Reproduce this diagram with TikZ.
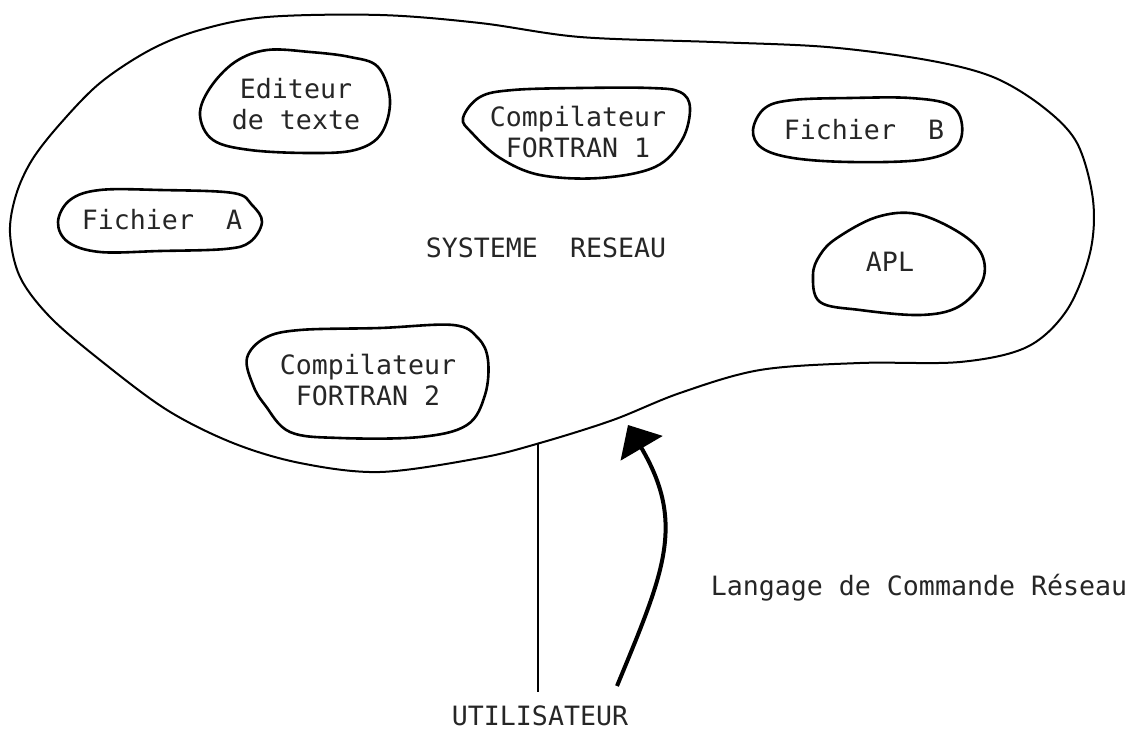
\documentclass[tikz,border=0pt]{standalone}
\usepackage{fontspec}
\setmonofont{DejaVu Sans Mono}
\usetikzlibrary{arrows.meta}

\begin{document}
\begin{tikzpicture}[x=0.5pt,y=-0.5pt]

\tikzset{
  txt/.style={font=\ttfamily\fontsize{13.3}{15.5}\selectfont, text=black!85, align=center},
  blob/.style={line width=1.3pt, smooth cycle, tension=0.6},
  outline/.style={line width=1pt, smooth cycle, tension=0.55}
}

\useasboundingbox (0,0) rectangle (1136,732);

\draw[outline] plot coordinates {(10,233) (16,195) (32,160) (60,124) (100,83) (150,50) (200,30) (267,17) (380,15) (480,23) (580,37) (713,42) (827,47) (927,60) (993,77) (1043,107) (1077,143) (1093,200) (1090,253) (1067,310) (1027,347) (960,362) (860,363) (760,370) (680,393) (613,420) (540,443) (480,458) (380,472) (300,463) (233,443) (167,410) (100,360) (50,317) (20,277)};

\node[txt] (edit) at (296,104) {Editeur\\de texte};
\draw[blob] plot coordinates {(200,115) (210,88) (235,62) (267,50) (310,52) (350,57) (378,67) (390,100) (381,134) (355,150) (310,153) (250,150) (213,140)};

\node[txt] (comp1) at (578,132) {Compilateur\\FORTRAN 1};
\draw[blob] plot coordinates {(463,118) (480,97) (513,90) (580,88) (650,88) (680,92) (690,108) (682,140) (655,167) (600,178) (540,175) (500,158) (472,133)};

\node[txt] (fichB) at (864,130) {Fichier~~B};
\draw[blob] plot coordinates {(753,130) (765,108) (793,100) (850,98) (910,98) (950,105) (962,125) (955,148) (920,160) (850,162) (793,158) (762,148)};

\node[txt] (fichA) at (162,220) {Fichier~~A};
\draw[blob] plot coordinates {(58,222) (70,200) (100,190) (160,190) (233,193) (252,205) (262,222) (250,242) (225,249) (160,251) (100,252) (68,242)};

\node[txt] (reseau) at (546,248) {SYSTEME~~RESEAU};

\node[txt] (apl) at (890,262) {APL};
\draw[blob] plot coordinates {(813,275) (820,255) (837,238) (877,217) (917,214) (960,233) (982,255) (982,282) (958,307) (920,315) (860,310) (820,302)};

\node[txt] (comp2) at (368,380) {Compilateur\\FORTRAN 2};
\draw[blob] plot coordinates {(247,358) (265,338) (300,330) (380,328) (453,325) (478,338) (488,360) (485,395) (467,425) (420,437) (340,438) (290,432) (265,405) (253,385)};

\coordinate (utop) at (538,444);
\node[txt, inner sep=1pt] (user) at (540,716) {UTILISATEUR};
\draw[line width=0.6pt] (utop) -- ([yshift=6pt]utop |- user.north);

\coordinate (cmdfrom) at (617,686);
\coordinate (cmdto) at (628,425);
\draw[line width=2pt, -{Triangle[length=13.5pt,width=24pt]}] (cmdfrom) .. controls (664,572) and (686,524) .. (cmdto);
\node[txt] (lcr) at (919,588) {Langage de Commande Réseau};

\end{tikzpicture}
\end{document}
